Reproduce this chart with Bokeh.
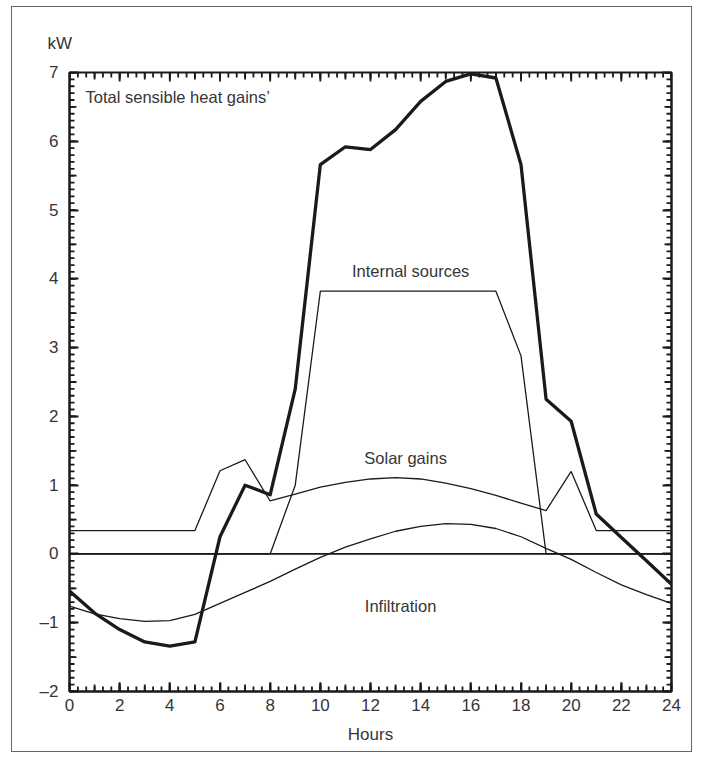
import numpy as np
from bokeh.plotting import figure
from bokeh.models import (LinearAxis, SingleIntervalTicker, Span, Label, Range1d,
                          CustomJSTickFormatter)
from bokeh.embed import file_html
from bokeh.resources import INLINE

# ---- data (kW per hour) ----
hours = list(range(25))
total_gains = [-0.54, -0.86, -1.10, -1.28, -1.34, -1.28, 0.25, 1.00, 0.86, 2.40,
               5.66, 5.92, 5.88, 6.17, 6.58, 6.87, 6.98, 6.92, 5.66, 2.25,
               1.93, 0.58, 0.24, -0.10, -0.44]
solar_gains = [0.34, 0.34, 0.34, 0.34, 0.34, 0.34, 1.21, 1.37, 0.77, 0.87,
               0.97, 1.04, 1.09, 1.11, 1.09, 1.03, 0.95, 0.85, 0.74, 0.63,
               1.20, 0.34, 0.34, 0.34, 0.34]
internal_sources = [0, 0, 0, 0, 0, 0, 0, 0, 0, 1.0,
                    3.82, 3.82, 3.82, 3.82, 3.82, 3.82, 3.82, 3.82, 2.88, 0,
                    0, 0, 0, 0, 0]
infiltration = [-0.76, -0.87, -0.94, -0.98, -0.97, -0.88, -0.72, -0.56, -0.40, -0.22,
                -0.05, 0.10, 0.22, 0.33, 0.40, 0.44, 0.43, 0.37, 0.25, 0.08,
                -0.08, -0.27, -0.45, -0.59, -0.72]

x_tick_step = 2          # labelled every 2 hours
y_tick_step = 1
y_label_overrides = {-2: "\u20132", -1: "\u20131"}
x_lo, x_hi, y_lo, y_hi = 0, 24, -2, 7

FONT = "Liberation Sans"
TXT = "#363636"
INK = "#1a1a1a"

W, H = 681, 746
ML, MR, MT, MB = 57, 22, 65, 62
p = figure(width=W, height=H, output_backend="svg", toolbar_location=None,
           x_range=Range1d(x_lo, x_hi), y_range=Range1d(y_lo, y_hi), title="kW",
           min_border_left=ML, min_border_right=MR, min_border_top=MT, min_border_bottom=MB)
p.xgrid.visible = False
p.ygrid.visible = False
p.outline_line_color = INK
p.outline_line_width = 2
p.background_fill_color = "white"
p.border_fill_color = "white"
p.styles = {"border": "1px solid #666666", "margin-left": "11px", "margin-top": "6px"}

p.title.text_font = FONT
p.title.text_font_size = "17px"
p.title.text_font_style = "normal"
p.title.text_color = TXT
p.title.align = "left"
p.title.offset = -22
p.title.standoff = 39

def style_axis(ax, show_labels):
    ax.axis_line_color = INK
    ax.axis_line_width = 2
    ax.major_tick_in = 9
    ax.major_tick_out = 0
    ax.minor_tick_in = 0
    ax.minor_tick_out = 0
    ax.major_tick_line_color = INK
    ax.major_tick_line_width = 1.8
    if show_labels:
        ax.major_label_text_font = FONT
        ax.major_label_text_font_size = "17px"
        ax.major_label_text_color = TXT
    else:
        ax.formatter = CustomJSTickFormatter(code="return ''")
        ax.major_label_standoff = 0

xa = p.xaxis[0]
xa.ticker = SingleIntervalTicker(interval=x_tick_step)
style_axis(xa, True)
xa.major_label_standoff = 7
xa.axis_label = "Hours"
xa.axis_label_text_font = FONT
xa.axis_label_text_font_size = "17px"
xa.axis_label_text_font_style = "normal"
xa.axis_label_text_color = TXT
xa.axis_label_standoff = 11

ya = p.yaxis[0]
ya.ticker = SingleIntervalTicker(interval=y_tick_step)
style_axis(ya, True)
ya.major_label_standoff = 11
ya.major_label_overrides = y_label_overrides

right = LinearAxis(ticker=SingleIntervalTicker(interval=y_tick_step))
style_axis(right, False)
p.add_layout(right, "right")

# ---- inward tick combs on all four sides (tick length in px -> data units) ----
fw = W - ML - MR
fh = H - MT - MB
px_x = (x_hi - x_lo) / fw   # hours per pixel
px_y = (y_hi - y_lo) / fh   # kW per pixel

def x_ticks(step, length_px):
    xs = np.arange(x_lo, x_hi + 1e-9, step)
    L = length_px * px_y
    x0 = np.concatenate([xs, xs]); x1 = x0
    y0 = np.concatenate([np.full(len(xs), y_lo), np.full(len(xs), y_hi)])
    y1 = np.concatenate([np.full(len(xs), y_lo + L), np.full(len(xs), y_hi - L)])
    p.segment(x0, y0, x1, y1, line_color=INK, line_width=1.8)

def y_ticks(step, length_px):
    ys = np.arange(y_lo, y_hi + 1e-9, step)
    L = length_px * px_x
    y0 = np.concatenate([ys, ys]); y1 = y0
    x0 = np.concatenate([np.full(len(ys), x_lo), np.full(len(ys), x_hi)])
    x1 = np.concatenate([np.full(len(ys), x_lo + L), np.full(len(ys), x_hi - L)])
    p.segment(x0, y0, x1, y1, line_color=INK, line_width=1.8)

x_ticks(1 / 3, 5)
x_ticks(1, 7)
x_ticks(x_tick_step, 9)
y_ticks(0.1, 5)
y_ticks(0.5, 7)

p.add_layout(Span(location=0, dimension="width", line_color=INK, line_width=1.8))

p.line(hours, infiltration, line_color=INK, line_width=1.3)
p.line(hours, solar_gains, line_color=INK, line_width=1.3)
p.line(hours, internal_sources, line_color=INK, line_width=1.3)
p.line(hours, total_gains, line_color=INK, line_width=3.3, line_join="round")

def add_label(x, y, text, align="center"):
    p.add_layout(Label(x=x, y=y, text=text, text_font=FONT, text_font_size="16.5px",
                       text_color=TXT, text_align=align, text_baseline="middle"))

add_label(0.64, 6.64, "Total sensible heat gains\u2019", "left")
add_label(13.6, 4.12, "Internal sources")
add_label(13.4, 1.40, "Solar gains")
add_label(13.2, -0.76, "Infiltration")

open("out.html", "w").write(file_html(p, INLINE))
